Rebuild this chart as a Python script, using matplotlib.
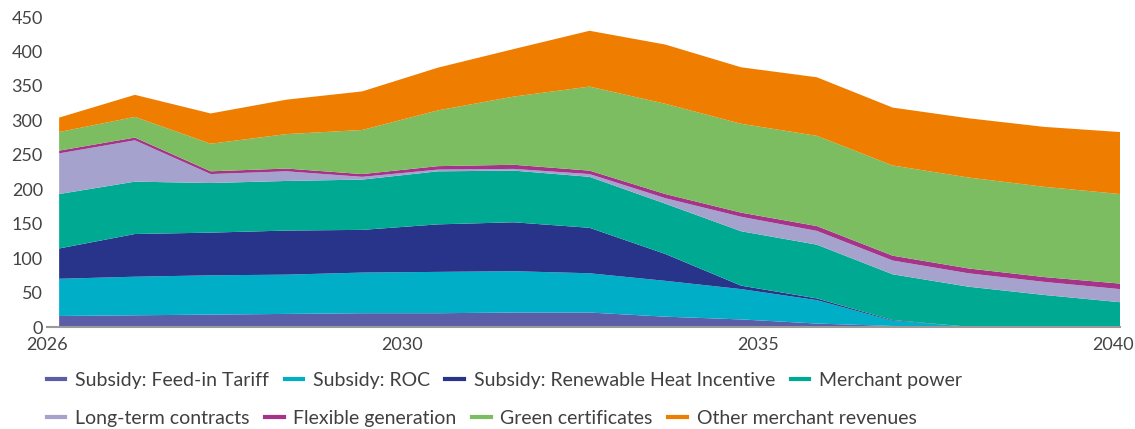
import matplotlib
matplotlib.use("Agg")
import matplotlib.pyplot as plt
from matplotlib.lines import Line2D
import numpy as np

plt.rcParams['font.family'] = ['Lato', 'DejaVu Sans']

years = np.arange(2026, 2041)

feed_in_tariff = [16, 17, 18, 19, 20, 20, 21, 21, 15, 11, 5, 1.5, 0, 0, 0]
roc = [54, 56, 57, 57, 59, 60, 60, 57, 52, 44, 34, 7.5, 0.5, 0, 0]
rhi = [44, 62, 62, 64, 62, 69, 71, 66, 39, 5, 2.5, 1, 0, 0, 0]
merchant_power = [79, 76, 72, 72, 73, 77, 75, 74, 73, 79, 78, 66.5, 58, 46.5, 36]
long_term = [59, 60, 13, 14, 4, 2.5, 2.5, 4, 8, 21, 20, 20, 19.5, 19, 19]
flexible = [4, 4, 4, 4, 4, 5, 6, 5, 6, 6, 7, 7, 7, 7, 8]
green_cert = [27, 30, 40, 50, 64, 81, 99, 122, 131, 129, 131, 131, 132, 131, 130]
other_merchant = [21, 32, 44, 50, 56, 62, 69, 81, 86, 82, 85, 84, 86, 87, 90]

labels = ["Subsidy: Feed-in Tariff", "Subsidy: ROC",
          "Subsidy: Renewable Heat Incentive", "Merchant power",
          "Long-term contracts", "Flexible generation",
          "Green certificates", "Other merchant revenues"]
colors = ["#5a5ea6", "#00aec8", "#28348a", "#00aa92",
          "#a5a3cd", "#a5338a", "#7bbd60", "#ef7d00"]

xtick_labels = ["2026", "2030", "2035", "2040"]

fig = plt.figure(figsize=(11.35, 4.29), dpi=100)
ax = fig.add_axes([47 / 1135, 102 / 429, 1073 / 1135, 310 / 429])

ax.stackplot(years, feed_in_tariff, roc, rhi, merchant_power, long_term,
             flexible, green_cert, other_merchant, colors=colors, linewidth=0)

ax.set_xlim(2025.84, 2040)
ax.set_ylim(0, 450)
ax.set_yticks(np.arange(0, 451, 50))
# labels sit at evenly spaced points along the axis, as in the original
ax.set_xticks([2025.84, 2030.53, 2035.22, 2039.91])
ax.set_xticklabels(xtick_labels)

for s in ["top", "right", "left"]:
    ax.spines[s].set_visible(False)
ax.spines["bottom"].set_color("#9a9a9a")
ax.spines["bottom"].set_linewidth(1.5)
ax.tick_params(axis="both", length=0, labelsize=13, colors="#444444")
ax.tick_params(axis="y", pad=3)
ax.tick_params(axis="x", pad=7)

handles = [Line2D([0], [0], color=c, linewidth=3) for c in colors]
legend_kw = dict(loc="center left", ncol=4, frameon=False, fontsize=14,
                 handlelength=0.95, handletextpad=0.5, columnspacing=0.8,
                 borderaxespad=0, borderpad=0)
leg1 = fig.legend(handles[:4], labels[:4], bbox_to_anchor=(47 / 1135, 0.114), **legend_kw)
leg2 = fig.legend(handles[4:], labels[4:], bbox_to_anchor=(47 / 1135, 0.024), **legend_kw)
for leg in (leg1, leg2):
    for t in leg.get_texts():
        t.set_color("#404040")

fig.savefig("out.png", dpi=100)
